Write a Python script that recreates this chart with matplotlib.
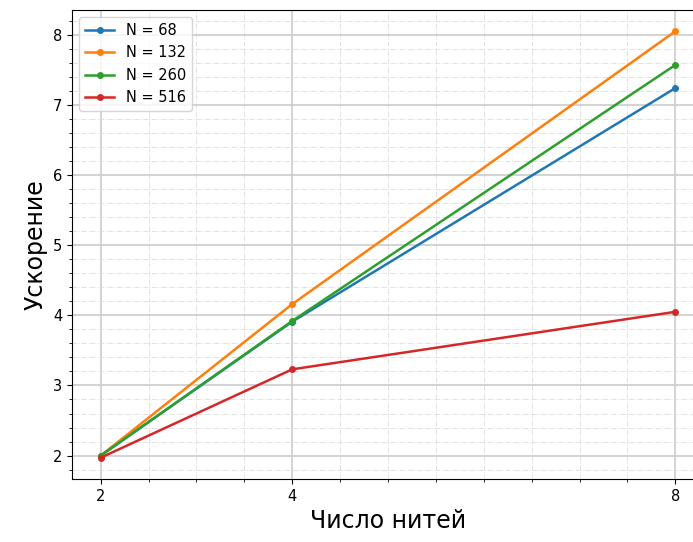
import matplotlib
matplotlib.use("Agg")
import matplotlib.pyplot as plt
from matplotlib.ticker import MultipleLocator

threads = [2, 4, 8]
speedup_68 = [2.0, 3.91, 7.24]
speedup_132 = [2.0, 4.16, 8.05]
speedup_260 = [2.0, 3.92, 7.57]
speedup_516 = [1.97, 3.23, 4.05]
labels = ["N = 68", "N = 132", "N = 260", "N = 516"]

fig = plt.figure(figsize=(6.93, 5.42), dpi=100)
ax = fig.add_axes([72 / 693, 63 / 542, 632 / 693, 469 / 542])

for ys, lab in zip([speedup_68, speedup_132, speedup_260, speedup_516], labels):
    ax.plot(threads, ys, marker="o", ms=4, lw=1.8, label=lab)

ax.set_xticks(threads)
ax.xaxis.set_minor_locator(MultipleLocator(0.5))
ax.yaxis.set_minor_locator(MultipleLocator(0.2))
ax.grid(True, which="major", color="#cccccc", lw=1.2)
ax.grid(True, which="minor", color="#dddddd", lw=0.6, ls="-.")
ax.tick_params(labelsize=10.5)

ax.set_xlabel("Число нитей", fontsize=17)
ax.set_ylabel("Ускорение", fontsize=17)
ax.legend(loc="upper left", fontsize=10.5)

fig.savefig("out.png", dpi=100)
